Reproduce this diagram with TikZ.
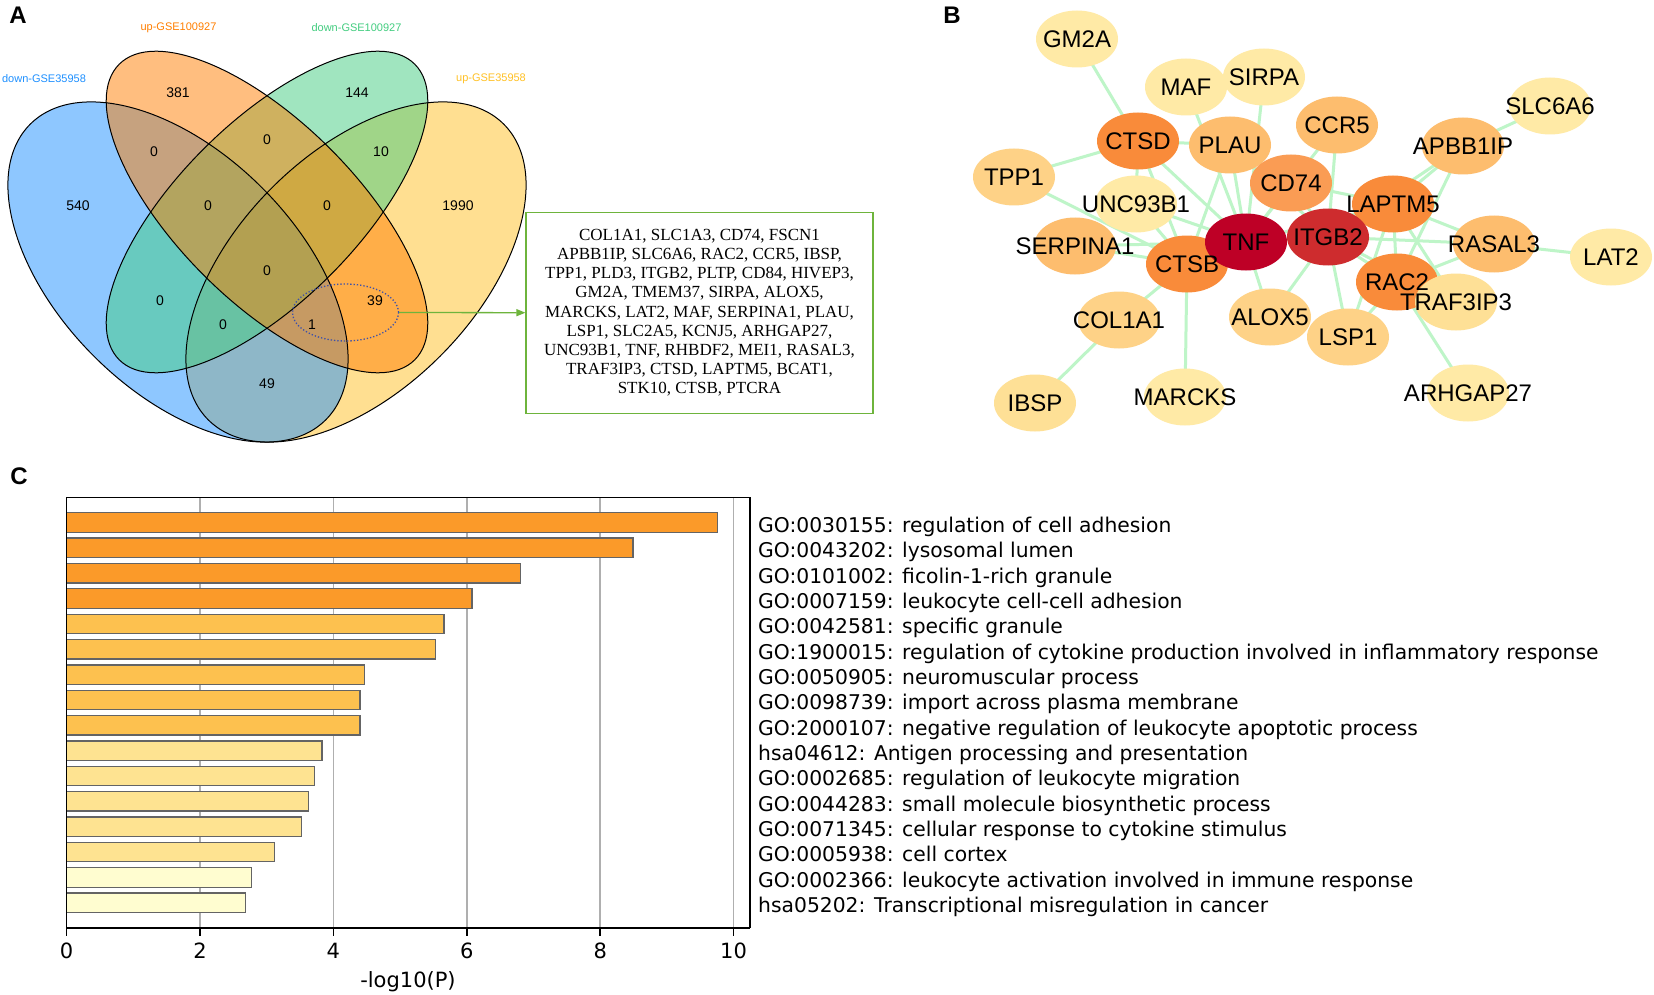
\documentclass[tikz,border=0pt]{standalone}
\usepackage{fontspec}
\setmainfont{Liberation Sans}
\newfontfamily\tnr{Liberation Serif}
\newfontfamily\djv{DejaVu Sans}
\usetikzlibrary{shapes.geometric,arrows.meta}
\pgfdeclarelayer{bg}
\pgfsetlayers{bg,main}
\definecolor{vblue}{RGB}{30,144,255}
\definecolor{vorange}{RGB}{255,127,0}
\definecolor{vgreen}{RGB}{67,205,128}
\definecolor{vyellow}{RGB}{255,193,37}
\definecolor{boxgreen}{RGB}{110,180,60}
\definecolor{selblue}{RGB}{60,80,170}
\definecolor{edgec}{RGB}{190,245,200}
\definecolor{cTNF}{RGB}{190,0,38}
\definecolor{cITG}{RGB}{206,44,46}
\definecolor{cA}{RGB}{249,139,58}
\definecolor{cB}{RGB}{250,156,84}
\definecolor{cC}{RGB}{253,189,110}
\definecolor{cD}{RGB}{254,210,135}
\definecolor{cDD}{RGB}{254,224,150}
\definecolor{cE}{RGB}{255,234,166}
\definecolor{bA}{RGB}{251,154,41}
\definecolor{bB}{RGB}{253,193,79}
\definecolor{bC}{RGB}{254,227,145}
\definecolor{bD}{RGB}{255,253,208}
\definecolor{gridc}{RGB}{175,175,175}
\definecolor{barline}{RGB}{100,100,100}
\begin{document}
\begin{tikzpicture}[x=1pt,y=-1pt,
  vout/.style={draw=black,line width=1pt},
  vnum/.style={font=\fontsize{14}{14}\selectfont,inner sep=0pt},
  vlab/.style={font=\fontsize{11}{11}\selectfont,inner sep=0pt},
  panel/.style={font=\bfseries\fontsize{24}{24}\selectfont,inner sep=0pt},
  gnode/.style={ellipse,minimum width=82pt,minimum height=57pt,inner sep=0pt},
  glab/.style={font=\fontsize{24}{24}\selectfont,inner sep=0pt},
  gedge/.style={draw=edgec,line width=3pt},
  barst/.style={draw=barline,line width=1.3pt},
  golab/.style={font=\djv\fontsize{20.3}{20.3}\selectfont,inner sep=0pt,anchor=base west},
  ticklab/.style={font=\djv\fontsize{21}{21}\selectfont,inner sep=0pt}
]
\useasboundingbox (0,0) rectangle (1654,995);
\begin{pgfonlayer}{bg}
\fill[white] (0,0) rectangle (1654,995);
\end{pgfonlayer}

% ---------------- Panel A: Venn ----------------
\node[panel] (pA) at (18,15.5) {A};
\fill[vyellow,fill opacity=0.5,rotate around={45:(356,272)}] (356,272) ellipse [x radius=209pt,y radius=119pt];
\fill[vblue,fill opacity=0.5,rotate around={-45:(178,272)}] (178,272) ellipse [x radius=209pt,y radius=119pt];
\fill[vgreen,fill opacity=0.5,rotate around={45:(267,212)}] (267,212) ellipse [x radius=209pt,y radius=89.4pt];
\fill[vorange,fill opacity=0.5,rotate around={-45:(267,212)}] (267,212) ellipse [x radius=209pt,y radius=89.4pt];
\draw[vout,rotate around={45:(356,272)}] (356,272) ellipse [x radius=209pt,y radius=119pt];
\draw[vout,rotate around={-45:(178,272)}] (178,272) ellipse [x radius=209pt,y radius=119pt];
\draw[vout,rotate around={45:(267,212)}] (267,212) ellipse [x radius=209pt,y radius=89.4pt];
\draw[vout,rotate around={-45:(267,212)}] (267,212) ellipse [x radius=209pt,y radius=89.4pt];

\node[vlab,text=vblue] (lA) at (44,79) {down-GSE35958};
\node[vlab,text=vorange] (lB) at (178.5,27.5) {up-GSE100927};
\node[vlab,text=vgreen] (lC) at (356.5,27.5) {down-GSE100927};
\node[vlab,text=vyellow] (lD) at (491,79) {up-GSE35958};

\node[vnum] (n1) at (178,93) {381};
\node[vnum] (n2) at (357,93) {144};
\node[vnum] (n3) at (154,152) {0};
\node[vnum] (n4) at (267,140) {0};
\node[vnum] (n5) at (381,152) {10};
\node[vnum] (n6) at (78,206) {540};
\node[vnum] (n7) at (208,206) {0};
\node[vnum] (n8) at (327,206) {0};
\node[vnum] (n9) at (458,206) {1990};
\node[vnum] (n10) at (267,271) {0};
\node[vnum] (n11) at (160,301) {0};
\node[vnum] (n12) at (375,301) {39};
\node[vnum] (n13) at (223,325) {0};
\node[vnum] (n14) at (312,325) {1};
\node[vnum] (n15) at (267,384) {49};

\node[ellipse,draw=selblue,dotted,line width=1.3pt,minimum width=106pt,minimum height=57pt,inner sep=0pt] (sel) at (345.5,312.5) {};
\node[draw=boxgreen,line width=1.2pt,minimum width=347pt,minimum height=201pt,align=center,inner sep=0pt,
      font=\tnr\fontsize{17}{19.2}\selectfont] (genes) at (699.5,312.7)
  {COL1A1, SLC1A3, CD74, FSCN1\\
   APBB1IP, SLC6A6, RAC2, CCR5, IBSP,\\
   TPP1, PLD3, ITGB2, PLTP, CD84, HIVEP3,\\
   GM2A, TMEM37, SIRPA, ALOX5,\\
   MARCKS, LAT2, MAF, SERPINA1, PLAU,\\
   LSP1, SLC2A5, KCNJ5, ARHGAP27,\\
   UNC93B1, TNF, RHBDF2, MEI1, RASAL3,\\
   TRAF3IP3, CTSD, LAPTM5, BCAT1,\\
   STK10, CTSB, PTCRA};
\draw[boxgreen,line width=1.3pt,-{Triangle[length=9pt,width=7pt]}] (sel.east) -- (genes.west);

% ---------------- Panel B: network ----------------
\node[panel] (pB) at (952,15.5) {B};
\foreach \n/\x/\y/\c in {GM2A/1077/39/cE, MAF/1186/87/cE, SIRPA/1264/77/cE, UNC93B1/1136/204/cE,
   SLC6A6/1550/106/cE, LAT2/1611/257/cE, MARCKS/1185/397/cE, ARHGAP27/1468/393/cE,
   TPP1/1014/177/cD, LSP1/1348/337/cD, ALOX5/1270/317/cD, COL1A1/1119/320/cD, IBSP/1035/403/cDD,
   PLAU/1230/145/cC, CCR5/1337/125/cC, SERPINA1/1075/246/cC, APBB1IP/1463/146/cC, RASAL3/1494/244/cC,
   CD74/1291/183/cB, CTSD/1138/141/cA, CTSB/1187/264/cA, LAPTM5/1393/204/cA, RAC2/1397/282/cA,
   TRAF3IP3/1456/302/cDD, TNF/1246/242/cTNF, ITGB2/1328/237/cITG}
  {\node[gnode,fill=\c] (\n) at (\x,\y) {};}
\begin{pgfonlayer}{bg}
\foreach \a/\b in {GM2A/CTSD, MAF/TNF, SIRPA/TNF, TPP1/CTSD, TPP1/CTSB, CTSD/PLAU, CTSD/TNF, CTSD/CTSB,
   CTSD/UNC93B1, UNC93B1/TNF, UNC93B1/CTSB, SERPINA1/CTSB, SERPINA1/TNF, CTSB/TNF, CTSB/MARCKS,
   CTSB/COL1A1, COL1A1/IBSP, PLAU/TNF, PLAU/CTSB, PLAU/ITGB2, CD74/TNF, CD74/ITGB2, CD74/LAPTM5,
   CCR5/ITGB2, CCR5/TNF, TNF/ITGB2, TNF/ALOX5, TNF/LAPTM5, ALOX5/ITGB2, LSP1/ITGB2, LSP1/RAC2,
   LSP1/LAPTM5, ITGB2/LAPTM5, ITGB2/RAC2, ITGB2/RASAL3, ITGB2/TRAF3IP3, ITGB2/APBB1IP,
   LAPTM5/APBB1IP, LAPTM5/RASAL3, LAPTM5/RAC2, LAPTM5/TRAF3IP3, APBB1IP/RAC2, APBB1IP/SLC6A6,
   RASAL3/LAT2, RASAL3/RAC2, RAC2/TRAF3IP3, RAC2/ARHGAP27}
  {\draw[gedge] (\a.center) -- (\b.center);}
\end{pgfonlayer}
\foreach \n in {GM2A, MAF, SIRPA, UNC93B1, SLC6A6, LAT2, MARCKS, ARHGAP27, TPP1, LSP1, ALOX5, COL1A1,
   IBSP, PLAU, CCR5, SERPINA1, APBB1IP, RASAL3, CD74, CTSD, CTSB, LAPTM5, RAC2, TRAF3IP3, TNF, ITGB2}
  {\node[glab] (t\n) at (\n.center) {\n};}

% ---------------- Panel C: bar chart ----------------
\node[panel] (pC) at (19,476.5) {C};
\foreach \k in {2,4,6,8,10}
  {\draw[gridc,line width=1.5pt] ({66.6+66.7*\k},497.3) -- ({66.6+66.7*\k},928.3);}
\foreach \v/\c [count=\i from 0] in {9.76/bA, 8.49/bA, 6.81/bA, 6.08/bA, 5.66/bB, 5.53/bB, 4.47/bB,
   4.40/bB, 4.40/bB, 3.83/bC, 3.72/bC, 3.63/bC, 3.52/bC, 3.12/bC, 2.77/bD, 2.68/bD}
  {\draw[barst,fill=\c] (66.6,{522.5+25.35*\i-9.75}) rectangle ({66.6+66.7*\v},{522.5+25.35*\i+9.75});}
\draw[black,line width=1.3pt] (66.6,497.3) -- (750,497.3) -- (750,928.3);
\draw[black,line width=1.6pt] (66.6,497.3) -- (66.6,928.3);
\draw[black,line width=1.8pt] (66.6,928.3) -- (750,928.3);
\foreach \k in {0,2,4,6,8,10}
  {\draw[black,line width=1.5pt] ({66.6+66.7*\k},928.3) -- ({66.6+66.7*\k},936);
   \node[ticklab] (tick\k) at ({66.6+66.7*\k},951) {\k};}
\node[ticklab] (xlab) at (408,982) {-log10(P)};
\foreach \t [count=\i from 0] in {GO:0030155: regulation of cell adhesion,
   GO:0043202: lysosomal lumen,
   GO:0101002: ficolin-1-rich granule,
   GO:0007159: leukocyte cell-cell adhesion,
   GO:0042581: specific granule,
   GO:1900015: regulation of cytokine production involved in inflammatory response,
   GO:0050905: neuromuscular process,
   GO:0098739: import across plasma membrane,
   GO:2000107: negative regulation of leukocyte apoptotic process,
   hsa04612: Antigen processing and presentation,
   GO:0002685: regulation of leukocyte migration,
   GO:0044283: small molecule biosynthetic process,
   GO:0071345: cellular response to cytokine stimulus,
   GO:0005938: cell cortex,
   GO:0002366: leukocyte activation involved in immune response,
   hsa05202: Transcriptional misregulation in cancer}
  {\node[golab] (go\i) at (758,{532.3+25.35*\i}) {\t};}
\end{tikzpicture}
\end{document}
